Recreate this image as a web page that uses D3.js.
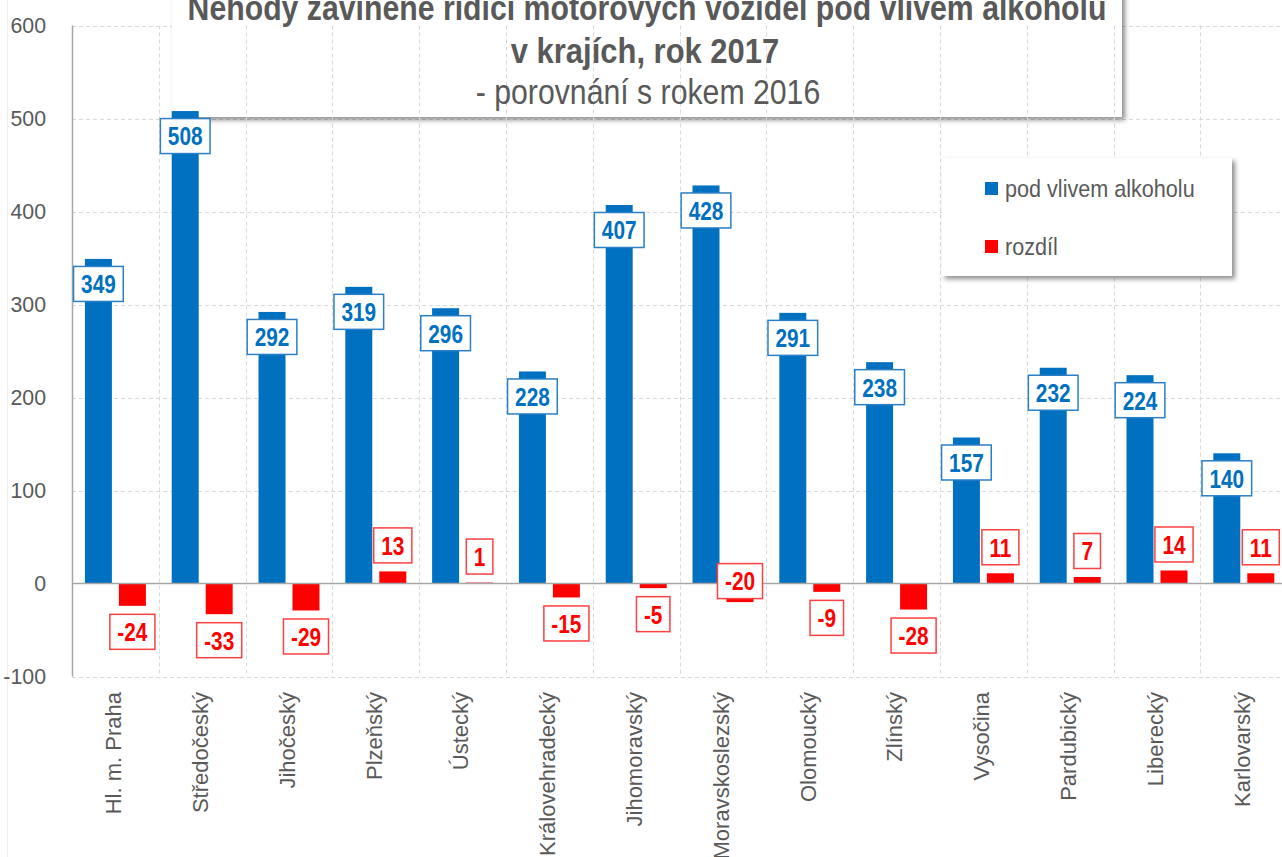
<!DOCTYPE html>
<html lang="cs">
<head>
<meta charset="UTF-8">
<title>Nehody pod vlivem alkoholu</title>
<script src="https://d3js.org/d3.v7.min.js"></script>
<style>
    body { margin: 0; background: #fff; }
    svg { display: block; }
    text { font-family: "Liberation Sans Narrow", "Arial Narrow", "Liberation Sans", Arial, sans-serif; }
    .tick-label { font-size: 22px; fill: #595959; }
    .cat-label { font-size: 22px; fill: #595959; }
    .val-label { font-size: 26px; font-weight: bold; }
    .title { fill: #595959; }
    .legend-text { font-size: 24px; fill: #595959; }
</style>
</head>
<body>
<script>
    const categories = ["Hl. m. Praha", "Středočeský", "Jihočeský", "Plzeňský", "Ústecký",
        "Královehradecký", "Jihomoravský", "Moravskoslezský", "Olomoucký", "Zlínský",
        "Vysočina", "Pardubický", "Liberecký", "Karlovarský"];
    const alcohol = [349, 508, 292, 319, 296, 228, 407, 428, 291, 238, 157, 232, 224, 140];
    const difference = [-24, -33, -29, 13, 1, -15, -5, -20, -9, -28, 11, 7, 14, 11];
    const yTicks = [-100, 0, 100, 200, 300, 400, 500, 600];
    const seriesNames = ["pod vlivem alkoholu", "rozdíl"];
    const titleLines = ["Nehody zaviněné řidiči motorových vozidel pod vlivem alkoholu",
        "v krajích, rok 2017", "- porovnání s rokem 2016"];

    const blue = "#0070C0", red = "#FF0000";
    const width = 1282, height = 857;
    // horizontal squeeze to imitate the narrow font of the original
    const squeeze = 0.84;

    const svg = d3.select("body").append("svg")
        .attr("width", width)
        .attr("height", height);

    const defs = svg.append("defs");
    const shadow = defs.append("filter").attr("id", "shadow")
        .attr("x", "-10%").attr("y", "-30%").attr("width", "120%").attr("height", "160%");
    shadow.append("feDropShadow")
        .attr("dx", 3).attr("dy", 3).attr("stdDeviation", 2.5)
        .attr("flood-color", "#000").attr("flood-opacity", 0.45);

    const x = d3.scaleBand()
        .domain(categories)
        .range([72, 72 + 14 * 86.8]);

    const xInner = d3.scaleBand()
        .domain(["alcohol", "difference"])
        .range([0, x.bandwidth()])
        .paddingInner(0.206)
        .paddingOuter(0.38);

    const y = d3.scaleLinear()
        .domain([-100, 600])
        .range([676.5, 25.5]);

    // faint chart border on the left
    svg.append("line")
        .attr("x1", 7.5).attr("x2", 7.5).attr("y1", 0).attr("y2", height)
        .attr("stroke", "#ececec");

    // horizontal gridlines
    svg.append("g").selectAll("line")
        .data(yTicks.filter(d => d !== 0))
        .join("line")
        .attr("x1", 72).attr("x2", width)
        .attr("y1", d => Math.round(y(d)) + 0.5)
        .attr("y2", d => Math.round(y(d)) + 0.5)
        .attr("stroke", "#d9d9d9")
        .attr("stroke-dasharray", "4,3");

    // title box (covers the horizontal grid)
    svg.append("rect")
        .attr("x", 172).attr("y", -30)
        .attr("width", 950).attr("height", 147)
        .attr("fill", "#fff")
        .attr("filter", "url(#shadow)");

    // vertical gridlines at category boundaries
    svg.append("g").selectAll("line")
        .data(categories.slice(1))
        .join("line")
        .attr("x1", d => Math.round(x(d)) + 0.5)
        .attr("x2", d => Math.round(x(d)) + 0.5)
        .attr("y1", y(600)).attr("y2", y(-100))
        .attr("stroke", "#d9d9d9")
        .attr("stroke-dasharray", "4,3");

    // title text
    const title = svg.append("g").attr("class", "title").attr("text-anchor", "middle");
    title.append("text").attr("transform", `translate(647,20) scale(${squeeze},1)`)
        .attr("font-size", 36).attr("font-weight", "bold").text(titleLines[0]);
    title.append("text").attr("transform", `translate(645,63) scale(0.86,1)`)
        .attr("font-size", 36).attr("font-weight", "bold").text(titleLines[1]);
    title.append("text").attr("transform", `translate(648,104) scale(${squeeze},1)`)
        .attr("font-size", 36).text(titleLines[2]);

    // y axis
    svg.append("line")
        .attr("x1", 72.5).attr("x2", 72.5)
        .attr("y1", y(600)).attr("y2", y(-100))
        .attr("stroke", "#a6a6a6").attr("stroke-width", 1.5);

    svg.append("g").selectAll("text")
        .data(yTicks)
        .join("text")
        .attr("class", "tick-label")
        .attr("transform", d => `translate(46,${y(d)}) scale(0.97,1)`)
        .attr("dy", "0.35em")
        .attr("text-anchor", "end")
        .text(d => d);

    // bars
    const groups = svg.append("g").selectAll("g")
        .data(categories)
        .join("g")
        .attr("transform", d => `translate(${x(d)},0)`);

    groups.append("rect")
        .attr("x", xInner("alcohol"))
        .attr("width", xInner.bandwidth())
        .attr("y", (d, i) => y(alcohol[i]))
        .attr("height", (d, i) => y(0) - y(alcohol[i]))
        .attr("fill", blue);

    groups.append("rect")
        .attr("x", xInner("difference"))
        .attr("width", xInner.bandwidth())
        .attr("y", (d, i) => y(Math.max(0, difference[i])))
        .attr("height", (d, i) => Math.abs(y(difference[i]) - y(0)))
        .attr("fill", red);

    // zero line
    svg.append("line")
        .attr("x1", 72).attr("x2", width)
        .attr("y1", y(0)).attr("y2", y(0))
        .attr("stroke", "#a6a6a6").attr("stroke-width", 1.5);

    // value labels in boxes
    function boxLabel(g, cx, cy, text, color, stroke) {
        const t = g.append("text")
            .attr("class", "val-label")
            .attr("transform", `translate(${cx},${cy}) scale(0.8,1)`)
            .attr("dy", "0.36em")
            .attr("text-anchor", "middle")
            .attr("fill", color)
            .text(text);
        const w = t.node().getComputedTextLength() * 0.8 + 15;
        g.insert("rect", () => t.node())
            .attr("x", cx - w / 2).attr("y", cy - 17.5)
            .attr("width", w).attr("height", 35)
            .attr("fill", "#fff")
            .attr("stroke", stroke)
            .attr("stroke-width", 1.5);
    }

    const labelLayer = svg.append("g");
    categories.forEach((c, i) => {
        const cxA = x(c) + xInner("alcohol") + xInner.bandwidth() / 2;
        boxLabel(labelLayer.append("g"), cxA, y(alcohol[i]) + 25, alcohol[i], blue, "#2a7fc6");

        const cxD = x(c) + xInner("difference") + xInner.bandwidth() / 2;
        const v = difference[i];
        let cy;
        if (c === "Moravskoslezský") cy = y(v) - 21; // label sits at the inner end of the bar
        else cy = v >= 0 ? y(v) - 26 : y(v) + 26;
        boxLabel(labelLayer.append("g"), cxD, cy, v, red, "#ff4040");
    });

    // category labels
    svg.append("g").selectAll("text")
        .data(categories)
        .join("text")
        .attr("class", "cat-label")
        .attr("transform", d => `translate(${x(d) + x.bandwidth() / 2 - 2},692) rotate(-90)`)
        .attr("dy", "0.35em")
        .attr("text-anchor", "end")
        .text(d => d);

    // legend
    const legend = svg.append("g");
    legend.append("rect")
        .attr("x", 942).attr("y", 158)
        .attr("width", 290).attr("height", 118)
        .attr("fill", "#fff")
        .attr("filter", "url(#shadow)");
    const items = legend.selectAll("g")
        .data(seriesNames)
        .join("g")
        .attr("transform", (d, i) => `translate(985,${182 + i * 58})`);
    items.append("rect")
        .attr("width", 13).attr("height", 13)
        .attr("fill", (d, i) => i === 0 ? blue : red);
    items.append("text")
        .attr("class", "legend-text")
        .attr("transform", `translate(20,6.5) scale(0.9,1)`)
        .attr("dy", "0.35em")
        .text(d => d);
</script>
</body>
</html>
